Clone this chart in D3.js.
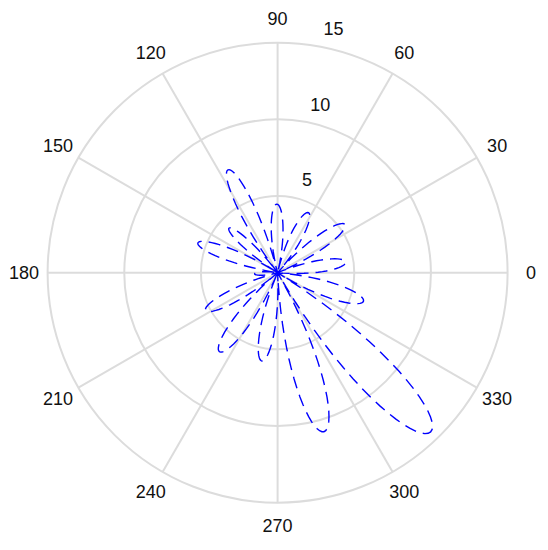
<!DOCTYPE html>
<html>
<head>
<meta charset="utf-8">
<script src="https://cdn.jsdelivr.net/npm/d3@7"></script>
<style>
  body { margin: 0; background: #fff; }
  svg { display: block; }
  .grid { fill: none; stroke: #dcdcdc; stroke-width: 2; }
  .lbl { font-family: Arial, "Liberation Sans", sans-serif; font-size: 18px; fill: #111; }
  .trace { fill: none; stroke: #0000ff; stroke-width: 1.4; stroke-dasharray: 12,7; }
</style>
</head>
<body>
<svg id="polar" width="548" height="550"></svg>
<script>
// angle where the trace comes back to the origin (degrees), one more than lobes
var nullAngles = [-4.75, 22.5, 48.75, 76.75, 104.5, 127, 148, 171, 195, 220.25, 247, 272.75, 299.75, 328, 355.25];
// peak value of each lobe, between consecutive nulls
var lobePeaks = [4.5, 5.4, 4.4, 4.47, 7.45, 4.3, 5.55, 1.5, 5.3, 6.4, 5.85, 10.8, 14.4, 5.9];

var angleTicks = [0, 30, 60, 90, 120, 150, 180, 210, 240, 270, 300, 330];
var rTicks = [5, 10, 15];

var cx = 277.6;
var cy = 272.7;
var outerR = 230;
var labelR = 253.5;
var rAxisAngle = 80;

var svg = d3.select('#polar');
var g = svg.append('g').attr('transform', 'translate(' + cx + ',' + cy + ')');

var rScale = d3.scaleLinear().domain([0, 15]).range([0, outerR]);
var toRad = d => d * Math.PI / 180;

// rings
g.selectAll('circle.grid')
  .data(rTicks)
  .enter()
  .append('circle')
  .attr('class', 'grid')
  .attr('r', d => rScale(d));

// spokes
g.selectAll('line.grid')
  .data(angleTicks)
  .enter()
  .append('line')
  .attr('class', 'grid')
  .attr('x1', 0).attr('y1', 0)
  .attr('x2', d => rScale(15) * Math.cos(toRad(d)))
  .attr('y2', d => -rScale(15) * Math.sin(toRad(d)));

// angle labels
g.selectAll('text.ang')
  .data(angleTicks)
  .enter()
  .append('text')
  .attr('class', 'lbl ang')
  .attr('x', d => labelR * Math.cos(toRad(d)))
  .attr('y', d => -labelR * Math.sin(toRad(d)))
  .attr('text-anchor', 'middle')
  .attr('dominant-baseline', 'central')
  .text(d => d);

// radius labels along 80 deg
g.selectAll('text.rad')
  .data(rTicks)
  .enter()
  .append('text')
  .attr('class', 'lbl rad')
  .attr('x', d => rScale(d) * Math.cos(toRad(rAxisAngle)) + 16)
  .attr('y', d => -rScale(d) * Math.sin(toRad(rAxisAngle)) - 17)
  .attr('text-anchor', 'middle')
  .attr('dominant-baseline', 'central')
  .text(d => d);

// build the trace: each lobe rises from zero to its peak and back between two nulls
var pts = [];
lobePeaks.forEach(function(p, i) {
  var a0 = nullAngles[i], a1 = nullAngles[i + 1];
  d3.range(0, 1, 1 / 40).forEach(function(t) {
    pts.push({ theta: a0 + t * (a1 - a0), rho: p * Math.sin(Math.PI * t) });
  });
});
pts.push({ theta: nullAngles[nullAngles.length - 1], rho: 0 });

var line = d3.lineRadial()
  .angle(d => Math.PI / 2 - toRad(d.theta))
  .radius(d => rScale(d.rho));

g.append('path')
  .datum(pts)
  .attr('class', 'trace')
  .attr('d', line);
</script>
</body>
</html>
